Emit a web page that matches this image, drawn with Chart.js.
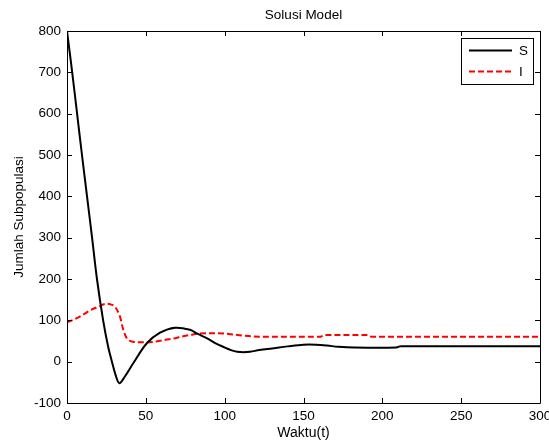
<!DOCTYPE html>
<html>
<head>
<meta charset="utf-8">
<script src="https://cdn.jsdelivr.net/npm/chart.js@4/dist/chart.umd.min.js"></script>
<style>
  html, body { margin: 0; padding: 0; background: #fff; }
  #wrap { width: 549px; height: 442px; }
</style>
</head>
<body>
<div id="wrap"><canvas id="c" width="549" height="442"></canvas></div>
<script>
// ---- data ----
const timeS   = [0, 3.3, 6.4, 9.5, 12.7, 15.9, 19, 23, 26, 28.5, 30.8, 33.2, 36.5, 42, 50.5, 59, 68.5, 78, 83, 88.6, 94, 99, 104, 108, 112, 116, 122, 130, 140, 150, 158, 165, 172, 182, 209, 211, 215, 300];
const valuesS = [800, 700, 600, 500, 400, 300, 200, 98, 38, 0, -32, -52, -37, -4, 44, 70, 82, 77, 67, 57, 45, 36, 28, 24, 23, 24, 28, 32, 37, 41, 41, 39, 36, 34, 34, 37, 37, 37];
const timeI   = [0, 5, 10, 14.6, 20, 25, 28, 30.4, 33.6, 35.7, 37.9, 42, 46, 50.5, 55, 61, 67.4, 73, 80, 88, 95, 100, 105, 112, 118, 125, 140, 161, 163, 191, 193, 300];
const valuesI = [95, 103, 113, 124, 133, 140, 138, 133, 109, 77, 57, 48, 47, 47, 48, 52, 56, 61, 66, 69, 69, 68, 66, 63, 61, 60.5, 60.5, 60.5, 64.5, 64.5, 60.5, 60.5];
const seriesNames = ['S', 'I'];
const xTicks = [0, 50, 100, 150, 200, 250, 300];
const yTicks = [-100, 0, 100, 200, 300, 400, 500, 600, 700, 800];

Chart.defaults.font.family = "'Liberation Sans', Arial, sans-serif";
Chart.defaults.font.size = 13.5;
Chart.defaults.color = '#000';

const toPts = (xs, ys) => xs.map((x, i) => ({ x: x, y: ys[i] }));

// MATLAB-like box with inward ticks and boxed legend
const boxPlugin = {
  id: 'boxPlugin',
  afterDraw(chart) {
    const ctx = chart.ctx;
    const a = chart.chartArea;
    const xs = chart.scales.x, ys = chart.scales.y;
    const tl = 5;
    ctx.save();
    ctx.strokeStyle = '#000';
    ctx.lineWidth = 1;
    ctx.beginPath();
    ctx.rect(Math.round(a.left) + 0.5, Math.round(a.top) + 0.5, Math.round(a.right - a.left), Math.round(a.bottom - a.top));
    ctx.stroke();
    ctx.beginPath();
    xTicks.forEach(v => {
      const px = Math.round(xs.getPixelForValue(v)) + 0.5;
      ctx.moveTo(px, a.bottom); ctx.lineTo(px, a.bottom - tl);
      ctx.moveTo(px, a.top); ctx.lineTo(px, a.top + tl);
    });
    yTicks.forEach(v => {
      const py = Math.round(ys.getPixelForValue(v)) + 0.5;
      ctx.moveTo(a.left, py); ctx.lineTo(a.left + tl, py);
      ctx.moveTo(a.right, py); ctx.lineTo(a.right - tl, py);
    });
    ctx.stroke();

    // legend
    const w = 72, h = 46;
    const lx = Math.round(a.right - 7 - w), ly = Math.round(a.top + 7);
    ctx.fillStyle = '#fff';
    ctx.fillRect(lx, ly, w, h);
    ctx.strokeStyle = '#000';
    ctx.lineWidth = 1;
    ctx.strokeRect(lx + 0.5, ly + 0.5, w, h);
    chart.data.datasets.forEach((ds, i) => {
      const yy = ly + 12.5 + i * 21;
      ctx.strokeStyle = ds.borderColor;
      ctx.lineWidth = 2;
      ctx.setLineDash(ds.borderDash || []);
      ctx.beginPath();
      ctx.moveTo(lx + 8, yy); ctx.lineTo(lx + 51, yy);
      ctx.stroke();
      ctx.setLineDash([]);
      ctx.fillStyle = '#000';
      ctx.font = "13.5px 'Liberation Sans', Arial, sans-serif";
      ctx.textBaseline = 'middle';
      ctx.textAlign = 'left';
      ctx.fillText(ds.label, lx + 58, yy + 1);
    });
    ctx.restore();
  }
};

new Chart(document.getElementById('c'), {
  type: 'line',
  data: {
    datasets: [
      { label: seriesNames[0], data: toPts(timeS, valuesS), borderColor: '#000000', borderWidth: 2, pointRadius: 0, tension: 0.35, fill: false },
      { label: seriesNames[1], data: toPts(timeI, valuesI), borderColor: '#ff0000', borderWidth: 2, borderDash: [6, 3], pointRadius: 0, cubicInterpolationMode: 'monotone', fill: false }
    ]
  },
  plugins: [boxPlugin],
  options: {
    responsive: false,
    animation: false,
    layout: { padding: { left: 0, right: 9, top: 0, bottom: 0 } },
    plugins: {
      legend: { display: false },
      tooltip: { enabled: false },
      title: {
        display: true, text: 'Solusi Model', fullSize: false,
        font: { size: 13.5, weight: 'normal' }, color: '#000',
        padding: { top: 7, bottom: 7.8 }
      }
    },
    scales: {
      x: {
        type: 'linear', min: 0, max: 300,
        afterBuildTicks: s => { s.ticks = xTicks.map(v => ({ value: v })); },
        afterFit: s => { s.paddingLeft = 0; s.paddingRight = 0; s.height = 39; },
        grid: { display: false, drawTicks: false },
        border: { display: false },
        ticks: { padding: 5, maxRotation: 0, autoSkip: false, color: '#000' },
        title: { display: true, text: 'Waktu(t)', color: '#000', font: { size: 14 }, padding: { top: 0, bottom: 0 } }
      },
      y: {
        type: 'linear', min: -100, max: 800,
        afterBuildTicks: s => { s.ticks = yTicks.map(v => ({ value: v })); },
        afterFit: s => { s.paddingTop = 0; s.paddingBottom = 0; s.width = 67; },
        grid: { display: false, drawTicks: false },
        border: { display: false },
        ticks: { padding: 6, autoSkip: false, color: '#000' },
        title: { display: true, text: 'Jumlah Subpopulasi', color: '#000', font: { size: 13.5 }, padding: { top: 11, bottom: 0 } }
      }
    }
  }
});
</script>
</body>
</html>
